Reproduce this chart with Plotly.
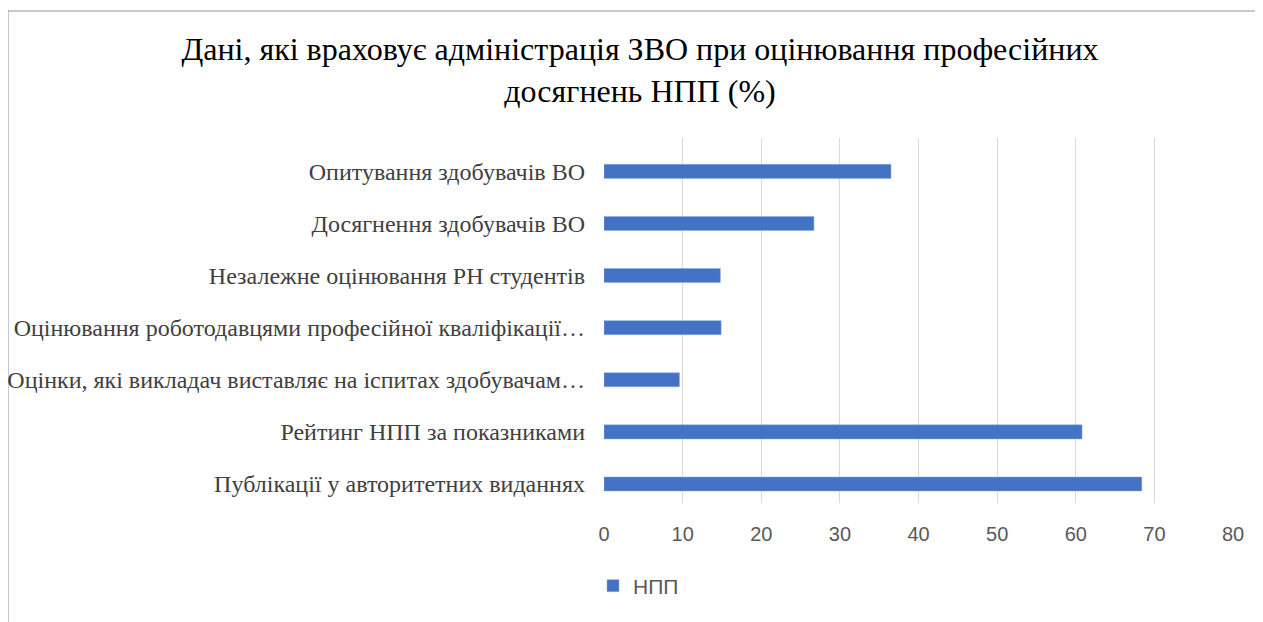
import plotly.graph_objects as go

categories = [
    "Публікації у авторитетних виданнях",
    "Рейтинг НПП за показниками",
    "Оцінки, які викладач виставляє на іспитах здобувачам…",
    "Оцінювання роботодавцями професійної кваліфікації…",
    "Незалежне оцінювання РН студентів",
    "Досягнення здобувачів ВО",
    "Опитування здобувачів ВО",
]
values = [68.4, 60.8, 9.6, 14.9, 14.8, 26.7, 36.5]
series_name = "НПП"
x_ticks = [0, 10, 20, 30, 40, 50, 60, 70, 80]

W, H = 1263, 622
OX, OY = 8, 8  # page body margin offset
# desired screen-pixel plot area
SL, SR, ST, SB = 604, 1233, 138, 503
L, R, T, B = SL - OX, SR - OX, ST - OY, SB - OY


def scr_to_paper(px, py):
    return (px - SL) / (SR - SL), (SB - py) / (SB - ST)


bx0, by0 = scr_to_paper(8, 11)
bx1, by1 = scr_to_paper(1275, 640)

fig = go.Figure()
fig.add_trace(go.Bar(
    y=categories, x=values, orientation="h", name=series_name,
    marker=dict(color="#4472C4", line=dict(color="#8FAADC", width=0.5)),
    showlegend=True,
))

fig.update_layout(
    width=W, height=H,
    margin=dict(l=L, r=W - R, t=T, b=H - B, autoexpand=False),
    paper_bgcolor="white", plot_bgcolor="white",
    bargap=0.73,
    title=dict(
        text="Дані, які враховує адміністрація ЗВО при оцінювання професійних<br>досягнень НПП (%)",
        font=dict(family="Liberation Serif", size=32, color="#000000"),
        x=(640 - OX) / W, xanchor="center", y=1 - (52 - OY + 8) / H, yanchor="middle",
    ),
    xaxis=dict(
        range=[0, 80], tickvals=x_ticks, showgrid=True, gridcolor="#D9D9D9", gridwidth=1,
        zeroline=False, showline=False, ticks="", automargin=False,
        tickfont=dict(family="Liberation Sans", size=20, color="#595959"),
        ticklabelstandoff=17,
    ),
    yaxis=dict(
        showgrid=False, zeroline=False, showline=False, ticks="", automargin=False,
        range=[-0.365, 6.64],
        tickfont=dict(family="Liberation Serif", size=24, color="#404040"),
        ticklabelstandoff=18,
    ),
    legend=dict(
        orientation="h", x=scr_to_paper(593, 0)[0], xanchor="left",
        y=scr_to_paper(0, 586)[1], yanchor="middle",
        font=dict(family="Liberation Sans", size=21, color="#595959"),
        bgcolor="rgba(0,0,0,0)",
    ),
    shapes=[dict(
        type="rect", xref="paper", yref="paper",
        x0=bx0, y0=by0, x1=bx1, y1=by1,
        line=dict(color="#8497B0", width=1), fillcolor="rgba(0,0,0,0)", layer="below",
    )],
)

fig.write_html("out.html")
